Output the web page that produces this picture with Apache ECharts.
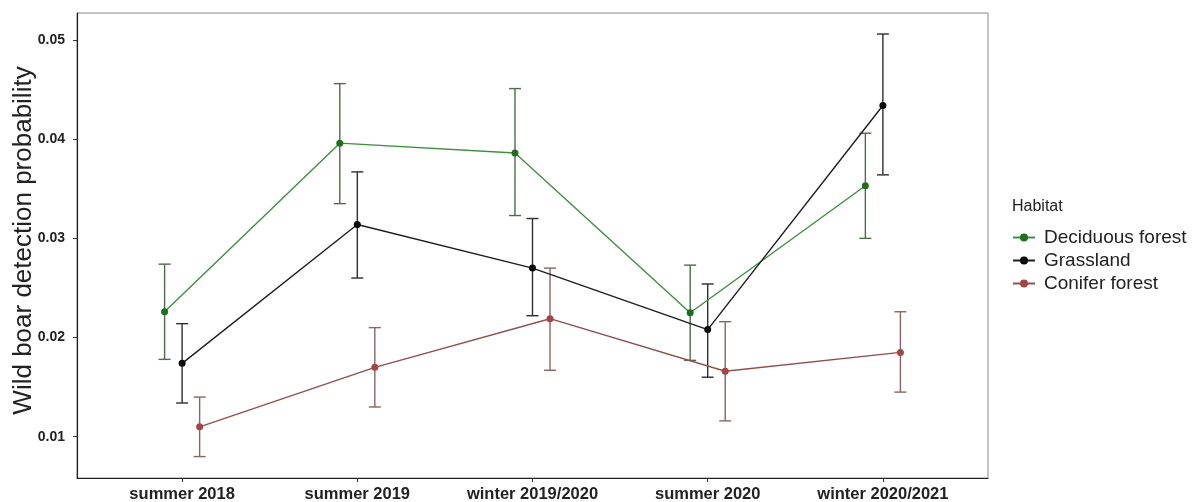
<!DOCTYPE html>
<html>
<head>
<meta charset="utf-8">
<script src="https://cdn.jsdelivr.net/npm/echarts@6/dist/echarts.min.js"></script>
<style>
  html, body { margin: 0; padding: 0; background: #ffffff; }
  #chart { width: 1199px; height: 502px; }
</style>
</head>
<body>
<div id="chart"></div>
<script>
// Survey periods on the x axis
const categories = ['summer 2018', 'summer 2019', 'winter 2019/2020', 'summer 2020', 'winter 2020/2021'];
const yTicks = [0.01, 0.02, 0.03, 0.04, 0.05];

// Estimated detection probability with lower / upper interval bounds, per habitat
const deciduous     = [0.0226, 0.0396, 0.0386, 0.0225, 0.0353];
const deciduousLow  = [0.0178, 0.0335, 0.0323, 0.0177, 0.0300];
const deciduousHigh = [0.0274, 0.0456, 0.0451, 0.0273, 0.0406];

const grassland     = [0.0174, 0.0314, 0.0270, 0.0208, 0.0434];
const grasslandLow  = [0.0134, 0.0260, 0.0222, 0.0160, 0.0364];
const grasslandHigh = [0.0214, 0.0367, 0.0320, 0.0254, 0.0506];

const conifer       = [0.0110, 0.0170, 0.0219, 0.0166, 0.0185];
const coniferLow    = [0.0080, 0.0130, 0.0167, 0.0116, 0.0145];
const coniferHigh   = [0.0140, 0.0210, 0.0270, 0.0216, 0.0226];

const habitats = [
  { name: 'Deciduous forest', mean: deciduous, low: deciduousLow, high: deciduousHigh, dodge: -0.1,
    point: '#1f6f1f', line: '#3f8f3f', bar: '#4d6b4d' },
  { name: 'Grassland', mean: grassland, low: grasslandLow, high: grasslandHigh, dodge: 0,
    point: '#0a0a0a', line: '#1e1e1e', bar: '#2e2e2e' },
  { name: 'Conifer forest', mean: conifer, low: coniferLow, high: coniferHigh, dodge: 0.1,
    point: '#a24545', line: '#8e5050', bar: '#8a6464' }
];

const FONT = '"Liberation Sans", Arial, Helvetica, sans-serif';

function errorBars(h) {
  return {
    type: 'custom',
    name: h.name + ' interval',
    z: 1,
    data: h.mean.map((_, i) => [i + h.dodge, h.low[i], h.high[i]]),
    renderItem: function (params, api) {
      const x = api.value(0);
      const pLo = api.coord([x, api.value(1)]);
      const pHi = api.coord([x, api.value(2)]);
      const hw = 6;
      const style = { stroke: h.bar, lineWidth: 1.4 };
      return {
        type: 'group',
        children: [
          { type: 'line', shape: { x1: pLo[0], y1: pLo[1], x2: pHi[0], y2: pHi[1] }, style: style },
          { type: 'line', shape: { x1: pHi[0] - hw, y1: pHi[1], x2: pHi[0] + hw, y2: pHi[1] }, style: style },
          { type: 'line', shape: { x1: pLo[0] - hw, y1: pLo[1], x2: pLo[0] + hw, y2: pLo[1] }, style: style }
        ]
      };
    }
  };
}

function meanLine(h) {
  return {
    type: 'line',
    name: h.name,
    z: 2,
    data: h.mean.map((v, i) => [i + h.dodge, v]),
    symbol: 'circle',
    symbolSize: 7,
    itemStyle: { color: h.point },
    lineStyle: { color: h.line, width: 1.4 },
    emphasis: { disabled: true },
    animation: false
  };
}

const series = [];
habitats.forEach(h => series.push(errorBars(h)));
habitats.forEach(h => series.push(meanLine(h)));

const chart = echarts.init(document.getElementById('chart'), null, { renderer: 'canvas' });
chart.setOption({
  backgroundColor: '#ffffff',
  animation: false,
  title: {
    text: 'Habitat',
    left: 1012,
    top: 199,
    textStyle: { fontFamily: FONT, fontSize: 16, fontWeight: 'normal', color: '#222' },
    padding: 0
  },
  legend: {
    data: habitats.map(h => h.name),
    orient: 'vertical',
    left: 1012,
    top: 228,
    itemWidth: 22,
    itemHeight: 10,
    itemGap: 4,
    padding: 0,
    selectedMode: false,
    textStyle: { fontFamily: FONT, fontSize: 19, color: '#222', padding: [0, 0, 0, 4] }
  },
  grid: {
    left: 77, top: 13, width: 911, height: 465,
    outerBoundsMode: 'none',
    containLabel: false,
    show: true, borderColor: '#8a8a8a', borderWidth: 1, backgroundColor: '#ffffff'
  },
  xAxis: {
    type: 'value',
    min: -0.6,
    max: 4.6,
    axisLine: { show: true, onZero: false, lineStyle: { color: '#222', width: 1.2 } },
    axisTick: { show: true, length: 4, lineStyle: { color: '#333' }, customValues: categories.map((_, i) => i) },
    axisLabel: {
      customValues: categories.map((_, i) => i),
      formatter: v => categories[Math.round(v)],
      fontFamily: FONT, fontSize: 16.5, fontWeight: 'bold', color: '#222', margin: 8
    },
    splitLine: { show: false }
  },
  yAxis: {
    type: 'value',
    min: 0.00584,
    max: 0.05272,
    name: 'Wild boar detection probability',
    nameLocation: 'middle',
    nameGap: 40,
    nameMoveOverlap: false,
    nameTextStyle: { fontFamily: FONT, fontSize: 26, color: '#222', padding: [0, 0, 0, 10] },
    axisLine: { show: true, onZero: false, lineStyle: { color: '#222', width: 1.2 } },
    axisTick: { show: true, length: 4, lineStyle: { color: '#333' }, customValues: yTicks },
    axisLabel: {
      customValues: yTicks,
      formatter: v => v.toFixed(2),
      fontFamily: FONT, fontSize: 14, fontWeight: 'bold', color: '#222', margin: 12
    },
    splitLine: { show: false }
  },
  series: series
});
</script>
</body>
</html>
